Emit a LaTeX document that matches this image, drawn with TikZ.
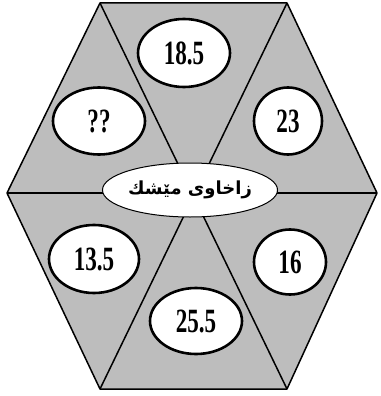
\documentclass[tikz,border=0pt]{standalone}
\usepackage{graphicx}
\usepackage{fontspec}
\usepackage{tikz}
\usetikzlibrary{shapes.geometric}
\setmainfont{Liberation Serif}
\newfontfamily\arabicfont[Script=Arabic]{DejaVu Sans}
\TeXXeTstate=1
\newcommand{\numtxt}[1]{\scalebox{0.68}[1]{\fontsize{34}{34}\selectfont\bfseries #1}}
\definecolor{hexgray}{HTML}{BDBDBD}

\begin{document}
\begin{tikzpicture}[x=1pt, y=-1pt, line join=round,
    oval/.style={ellipse, draw, line width=2.6pt, fill=white, inner sep=0pt},
    edge/.style={line width=1.5pt, black}]
  \useasboundingbox (0,0) rectangle (380,396);
  % corners of the hexagon
  \coordinate (tl) at (100,3);
  \coordinate (tr) at (287,3);
  \coordinate (r)  at (377,193);
  \coordinate (br) at (287,389);
  \coordinate (bl) at (100,389);
  \coordinate (l)  at (7,193);
  \fill[hexgray] (tl) -- (tr) -- (r) -- (br) -- (bl) -- (l) -- cycle;
  \draw[edge] (tl) -- (br);
  \draw[edge] (tr) -- (bl);
  \draw[edge] (l) -- (r);
  \draw[edge] (tl) -- (tr) -- (r) -- (br) -- (bl) -- (l) -- cycle;
  % the six values
  \node[oval, minimum width=92, minimum height=68] (top)   at (184,53)  {\numtxt{18.5}};
  \node[oval, minimum width=92, minimum height=67] (upl)   at (99,121)  {\numtxt{??}};
  \node[oval, minimum width=68, minimum height=67] (upr)   at (288,121) {\numtxt{23}};
  \node[oval, minimum width=90, minimum height=68] (lowl)  at (94,259)  {\numtxt{13.5}};
  \node[oval, minimum width=72, minimum height=65] (lowr)  at (290,262) {\numtxt{16}};
  \node[oval, minimum width=92, minimum height=66] (bot)   at (196,321) {\numtxt{25.5}};
  % title in the middle
  \node[ellipse, draw, line width=1pt, fill=white, minimum width=160, minimum height=54,
        inner sep=0pt] (mid) at (190,190)
        {\arabicfont\bfseries\fontsize{18}{18}\selectfont\beginR زاخاوی مێشك\endR};
\end{tikzpicture}
\end{document}
